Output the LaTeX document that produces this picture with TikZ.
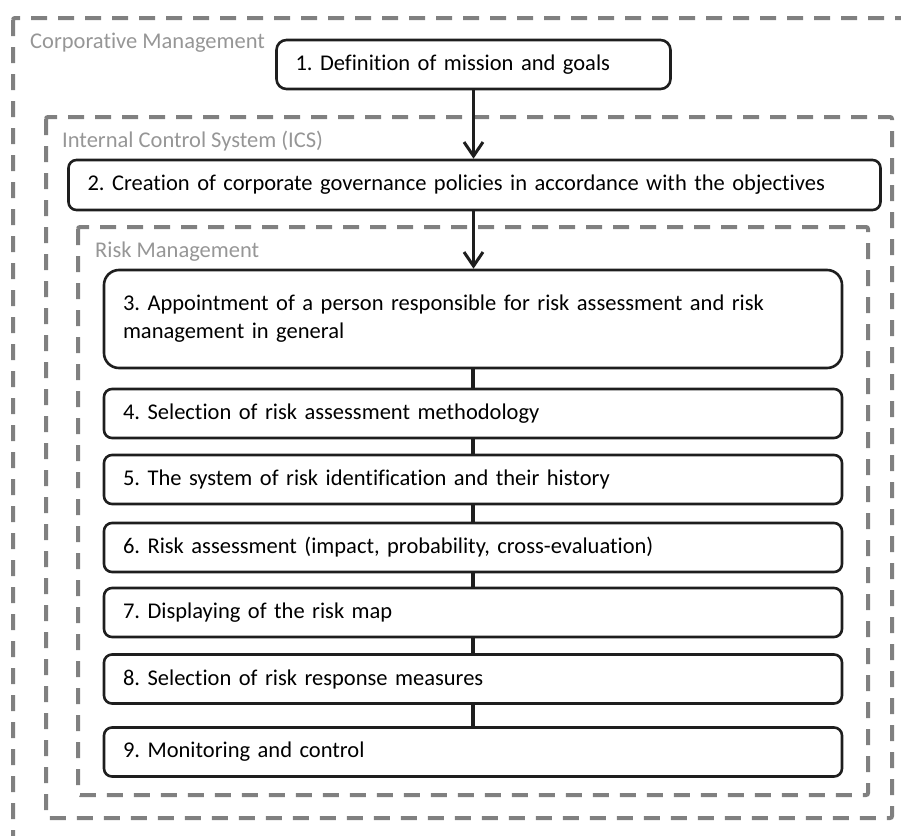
\documentclass[tikz,border=0pt]{standalone}
\usepackage{fontspec}
\setmainfont{Carlito}[Ligatures={NoCommon}]
\usepackage{tikz}
\usetikzlibrary{arrows.meta, positioning, calc}
\definecolor{framegray}{RGB}{128,128,128}
\definecolor{labelgray}{RGB}{150,150,150}
\definecolor{boxblack}{RGB}{30,30,30}
\frenchspacing

\begin{document}
\begin{tikzpicture}[x=1pt, y=-1pt, font=\fontsize{22.5}{28}\selectfont]
	\tikzstyle{frame_style}=[draw=framegray, line width=4pt, dash pattern=on 16pt off 11pt, rounded corners=2pt]
	\tikzstyle{label_style}=[text=labelgray, inner sep=0pt, anchor=base west]
	\tikzstyle{box_style}=[draw=boxblack, line width=2.6pt, rounded corners=8pt, inner xsep=19pt, inner ysep=0pt, minimum height=49pt, text width=700pt, align=left]
	\tikzstyle{arrow_style}=[draw=boxblack, line width=3pt, -{Straight Barb[length=14pt, width=19pt, line width=3pt]}]
	\tikzstyle{link_style}=[draw=boxblack, line width=4pt]
	\useasboundingbox (0,0) rectangle (901,835);
	% frames
	\draw[frame_style] (13,18) rectangle (915,850);
	\draw[frame_style] (46,117) rectangle (892,818);
	\draw[frame_style] (78,227) rectangle (868,795);
	\node[label_style] at (30,48) (corp_label) {Corporative Management};
	\node[label_style] at (62,147) (ics_label) {Internal Control System (ICS)};
	\node[label_style] at (95,257) (risk_label) {Risk Management};
	% corporative management and ICS
	\node at (473.5,64.5) [box_style, text width=356pt, rounded corners=10pt] (mission) {1. Definition of mission and goals};
	\node at (474.5,185) [box_style, text width=774pt, minimum height=50pt] (policies) {2. Creation of corporate governance policies in accordance with the objectives};
	% risk management
	\node at (473,319) [box_style, minimum height=98pt, rounded corners=15pt] (risk_step_3) {3. Appointment of a person responsible for risk assessment and risk\\management in general};
	\foreach \n/\y/\txt in {4/413.5/{Selection of risk assessment methodology},
	                        5/479.5/{The system of risk identification and their history},
	                        6/547.5/{Risk assessment (impact, probability, cross-evaluation)},
	                        7/612.5/{Displaying of the risk map},
	                        8/679/{Selection of risk response measures},
	                        9/752/{Monitoring and control}}
		\node at (473,\y) [box_style] (risk_step_\n) {\n. \txt};
	% connect
	\draw[arrow_style] (mission.south) -- (mission.south |- policies.north);
	\draw[arrow_style] (mission.south |- policies.south) -- (mission.south |- risk_step_3.north);
	\foreach \n/\m in {3/4,4/5,5/6,6/7,7/8,8/9}
		\draw[link_style] (risk_step_\n.south) -- (risk_step_\m.north);
\end{tikzpicture}
\end{document}
